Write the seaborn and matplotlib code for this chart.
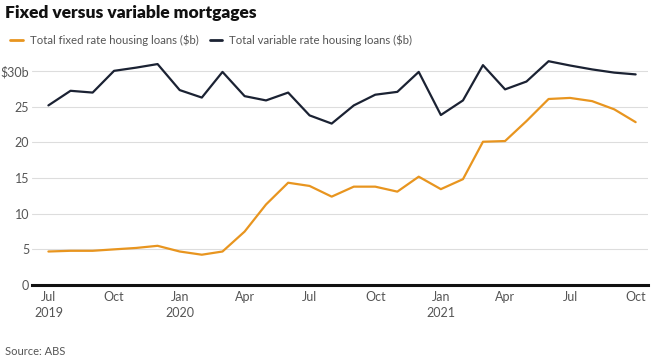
import pandas as pd
import numpy as np
import matplotlib
matplotlib.use("Agg")
import matplotlib.pyplot as plt
import seaborn as sns

# data (monthly, Jul 2019 - Oct 2021, $b)
months = pd.date_range("2019-07-01", "2021-10-01", freq="MS")
fixed = [4.7, 4.8, 4.8, 5.0, 5.2, 5.5, 4.7, 4.25, 4.7, 7.5, 11.3, 14.35, 13.9, 12.4,
         13.8, 13.8, 13.1, 15.2, 13.45, 14.85, 20.1, 20.2, 23.0, 26.1, 26.25, 25.8, 24.65, 22.85]
variable = [25.2, 27.25, 27.0, 30.05, 30.5, 31.0, 27.35, 26.3, 29.9, 26.5, 25.9, 27.0, 23.8, 22.65,
            25.2, 26.7, 27.1, 29.9, 23.85, 25.9, 30.85, 27.45, 28.55, 31.4, 30.8, 30.25, 29.8, 29.55]
series_names = ["Total fixed rate housing loans ($b)", "Total variable rate housing loans ($b)"]
colours = ["#E8951F", "#1B2233"]
y_ticks = [0, 5, 10, 15, 20, 25, 30]
y_labels = ["0", "5", "10", "15", "20", "25", "$30b"]
x_tick_dates = pd.to_datetime(["2019-07-01", "2019-10-01", "2020-01-01", "2020-04-01", "2020-07-01",
                               "2020-10-01", "2021-01-01", "2021-04-01", "2021-07-01", "2021-10-01"])
x_labels = ["Jul\n2019", "Oct", "Jan\n2020", "Apr", "Jul", "Oct", "Jan\n2021", "Apr", "Jul", "Oct"]

df = pd.DataFrame({"month": list(months) * 2,
                   "value": fixed + variable,
                   "series": [series_names[0]] * len(months) + [series_names[1]] * len(months)})

sns.set_style("white")
plt.rcParams["font.family"] = ["Lato", "DejaVu Sans"]

fig = plt.figure(figsize=(6.53, 3.62), dpi=100)
ax = fig.add_axes([0.049, 0.2127, 0.943, 0.63])

sns.lineplot(data=df, x="month", y="value", hue="series", palette=colours,
             linewidth=1.6, ax=ax, legend=False)

ax.set_ylim(0, 32)
ax.set_xlim(pd.Timestamp("2019-06-08"), pd.Timestamp("2021-10-18"))
ax.set_yticks(y_ticks)
ax.set_yticklabels(y_labels)
ax.set_xticks(x_tick_dates)
ax.set_xticklabels(x_labels, ha="center", multialignment="center", linespacing=1.4)
ax.tick_params(axis="both", length=0, labelsize=9, labelcolor="#555555")
ax.tick_params(axis="y", pad=2)
ax.tick_params(axis="x", pad=4)
ax.grid(axis="y", color="#dddddd", linewidth=0.8)
ax.set_xlabel("")
ax.set_ylabel("")
for s in ["top", "right", "left"]:
    ax.spines[s].set_visible(False)
ax.spines["bottom"].set_color("#111111")
ax.spines["bottom"].set_linewidth(2.2)

# title, legend, source
fig.text(0.008, 0.965, "Fixed versus variable mortgages", fontsize=12.5, fontweight="heavy",
         color="#111111", va="center")
handles = [plt.Line2D([], [], color=c, linewidth=2) for c in colours]
fig.legend(handles, series_names, loc="center left", bbox_to_anchor=(0.0, 0.89), ncol=2,
           frameon=False, fontsize=8.2, handlelength=1.1, handletextpad=0.6, columnspacing=1.0,
           labelcolor="#555555")
fig.text(0.008, 0.03, "Source: ABS", fontsize=8, color="#555555", va="center")

fig.savefig("out.png", dpi=100)
